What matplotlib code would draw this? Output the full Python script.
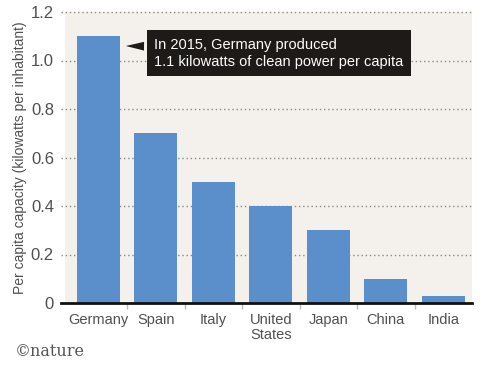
import numpy as np
import matplotlib.pyplot as plt

plt.rcParams['font.family'] = ['Liberation Sans', 'DejaVu Sans']

countries = ['Germany', 'Spain', 'Italy', 'United\nStates', 'Japan', 'China', 'India']
capacity = [1.1, 0.7, 0.5, 0.4, 0.3, 0.1, 0.03]
yticks = [0, 0.2, 0.4, 0.6, 0.8, 1.0, 1.2]
ytick_labels = ['0', '0.2', '0.4', '0.6', '0.8', '1.0', '1.2']

bar_col = '#5b8fcb'
bg = '#f4f0eb'
txt = '#505050'

fig = plt.figure(figsize=(4.83, 3.66), dpi=100)
ax = fig.add_axes([65/483, 63/366, 407/483, 291/366])
ax.set_facecolor(bg)

x = np.arange(len(countries))
ax.set_xlim(-0.58, 6.5)
ax.set_ylim(0, 1.2)

# dotted grid, reaching a bit left of the plot area
for v in yticks[1:]:
    ax.axhline(v, xmin=-0.01, xmax=1, color='#8a8a8a', lw=1.0,
               ls=(0, (1, 2)), clip_on=False, zorder=1)

ax.bar(x, capacity, width=0.75, color=bar_col, zorder=2)
ax.axhline(0, color='#111111', lw=2, xmin=-0.01, clip_on=False, zorder=3)

for s in ax.spines.values():
    s.set_visible(False)

ax.set_yticks(yticks)
ax.set_yticklabels(ytick_labels, fontsize=12, color=txt)
ax.tick_params(axis='y', length=0, pad=8)

ax.set_xticks(x)
ax.set_xticklabels(countries, fontsize=10.5, color=txt, linespacing=1.1)
ax.tick_params(axis='x', length=0, pad=7)
ax.set_xticks(x[:-1] + 0.5, minor=True)
ax.tick_params(axis='x', which='minor', length=4, color='#bbbbbb', width=1)

ax.set_ylabel('Per capita capacity (kilowatts per inhabitant)', fontsize=10,
              color=txt, labelpad=3)

ax.annotate('In 2015, Germany produced\n1.1 kilowatts of clean power per capita',
            xy=(0.43, 1.06), xytext=(0.97, 1.03), fontsize=10.5, color='white',
            va='center', ha='left', linespacing=1.3,
            bbox=dict(boxstyle='square,pad=0.5', fc='#1e1a18', ec='none'),
            arrowprops=dict(arrowstyle='wedge,tail_width=0.6', fc='#1e1a18',
                            ec='none', relpos=(0, 0.72)),
            zorder=5)

fig.text(15/483, 1 - 352/366, '\u00a9nature', fontsize=11.5, color='#555555',
         family='DejaVu Serif', va='center')

fig.savefig('out.png', dpi=100)
